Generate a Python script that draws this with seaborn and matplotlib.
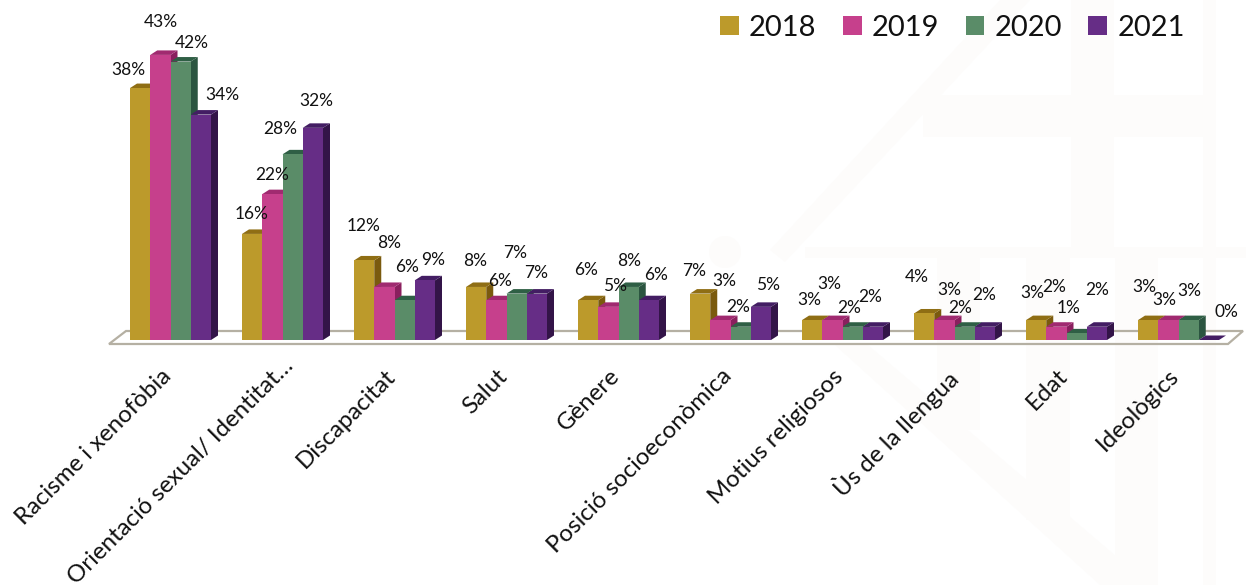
import matplotlib
matplotlib.use('Agg')
import matplotlib.pyplot as plt
from matplotlib.patches import Polygon, Rectangle, Circle
from matplotlib.transforms import ScaledTranslation
import pandas as pd
import seaborn as sns

categories = ['Racisme i xenofòbia', 'Orientació sexual/ Identitat…', 'Discapacitat', 'Salut', 'Gènere',
              'Posició socioeconòmica', 'Motius religiosos', 'Ùs de la llengua', 'Edat', 'Ideològics']
years = ['2018', '2019', '2020', '2021']
v2018 = [38, 16, 12, 8, 6, 7, 3, 4, 3, 3]
v2019 = [43, 22, 8, 6, 5, 3, 3, 3, 2, 3]
v2020 = [42, 28, 6, 7, 8, 2, 2, 2, 1, 3]
v2021 = [34, 32, 9, 7, 6, 5, 2, 2, 2, 0]

colors = ['#BC9A2B', '#C6408C', '#5A8C68', '#662D86']
top_colors = ['#8F6E14', '#A02A70', '#2F5F45', '#431D63']
side_colors = ['#7A5A0E', '#8A1F5E', '#2B5540', '#331448']

# hand placed label offsets in pixels, from the top of each bar (the labels are scattered in the original)
off2018 = [(-12, 18), (-1, 20), (-1, 34), (-1, 26), (-2, 30), (-6, 23), (-3, 20), (-7, 36), (-4, 27), (-4, 33)]
off2019 = [(0, 33), (0, 19), (5, 44), (4, 19), (7, 21), (4, 39), (-3, 36), (5, 30), (-2, 40), (-4, 20)]
off2020 = [(11, 19), (-12, 25), (2, 33), (-2, 41), (1, 26), (-2, 20), (-3, 19), (-4, 19), (-8, 25), (1, 29)]
off2021 = [(22, 20), (3, 27), (8, 20), (-1, 21), (7, 25), (7, 22), (-3, 30), (-1, 32), (0, 37), (18, 28)]

W, H = 1246, 585
PX_GROUP = 112.0   # px between groups
PX_PCT = 6.63      # px per 1%
X0 = 170.5         # px of first group centre
Y0 = 340.0         # px of baseline
AX_BOTTOM = 346


def to_x(px):
    return (px - X0) / PX_GROUP


def to_y(py):
    return (Y0 - py) / PX_PCT


sns.set_style('white')
plt.rcParams['font.family'] = ['Lato', 'DejaVu Sans']

df = pd.DataFrame({
    'cat': categories * 4,
    'year': [y for y in years for _ in categories],
    'pct': v2018 + v2019 + v2020 + v2021,
})

fig = plt.figure(figsize=(W / 100, H / 100), dpi=100)
ax = fig.add_axes([0, 1 - AX_BOTTOM / H, 1, AX_BOTTOM / H])
ax.patch.set_alpha(0)

sns.barplot(data=df, x='cat', y='pct', hue='year', hue_order=years, palette=colors,
            saturation=1, width=81 / 112, gap=0, ax=ax, zorder=3, linewidth=0)

ax.set_xlim(to_x(0), to_x(W))
ax.set_ylim(to_y(AX_BOTTOM), to_y(0))

# floor
floor = Polygon([(to_x(109), to_y(344)), (to_x(1228), to_y(344)), (to_x(1243), to_y(331)), (to_x(126), to_y(331))],
                closed=True, facecolor='none', edgecolor='#B5B0A3', linewidth=1.6, zorder=1, clip_on=False)
ax.add_patch(floor)

# 3d look, built from the seaborn bars
dx = 7 / PX_GROUP
dy = 4.5 / PX_PCT
offsets = [off2018, off2019, off2020, off2021]
for j, cont in enumerate(ax.containers):
    for i, bar in enumerate(cont):
        x0 = bar.get_x()
        x1 = x0 + bar.get_width()
        h = bar.get_height()
        top = Polygon([(x0, h), (x0 + dx, h + dy), (x1 + dx, h + dy), (x1, h)], closed=True,
                      facecolor=top_colors[j], edgecolor='none', zorder=2 + j * 0.01)
        side = Polygon([(x1, 0), (x1 + dx, dy), (x1 + dx, h + dy), (x1, h)], closed=True,
                       facecolor=side_colors[j], edgecolor='none', zorder=2 + j * 0.01)
        ax.add_patch(side)
        ax.add_patch(top)
        ax.annotate(f'{int(h)}%', xy=((x0 + x1) / 2, h), xytext=offsets[j][i], textcoords='offset pixels',
                    ha='center', va='center', fontsize=12.5, color='#111111', zorder=5)

# faint watermark behind the chart
mark = '#FDFCFB'
for rx, ry, rw, rh in [(1071, 0, 43, 258), (1203, 0, 13, 585), (923, 95, 280, 42), (805, 247, 441, 11),
                       (937, 258, 43, 172), (1026, 258, 44, 262), (1115, 258, 43, 327)]:
    fig.add_artist(Rectangle((rx / W, 1 - (ry + rh) / H), rw / W, rh / H, transform=fig.transFigure,
                             facecolor=mark, edgecolor='none', zorder=-5))
for pts in [[(770, 250), (1000, 0), (1030, 0), (785, 262)], [(835, 345), (868, 345), (1150, 585), (1100, 585)]]:
    fig.add_artist(Polygon([(px / W, 1 - py / H) for px, py in pts], transform=fig.transFigure,
                           facecolor=mark, edgecolor='none', zorder=-5))
fig.add_artist(Circle((725, H - 252), 16, transform=None, facecolor=mark, edgecolor='none', zorder=-5))

ax.set_xlabel('')
ax.set_ylabel('')
ax.set_yticks([])
ax.tick_params(axis='x', length=0, pad=14)
ax.set_xticks(range(len(categories)))
ax.set_xticklabels(categories, rotation=45, ha='right', rotation_mode='anchor', fontsize=17.3, color='#111111')
for i, lab in enumerate(ax.get_xticklabels()):
    # the long label sits a little further up and right in the original
    shift = (0, 10) if i == 1 else (-10, 0)
    lab.set_transform(lab.get_transform() + ScaledTranslation(shift[0] / 100, shift[1] / 100, fig.dpi_scale_trans))
sns.despine(ax=ax, left=True, bottom=True)

ax.legend(loc='upper right', bbox_to_anchor=(1188 / W, 1 - 12 / AX_BOTTOM), ncol=4, frameon=False, fontsize=21,
          handlelength=0.65, handleheight=0.65, handletextpad=0.35, columnspacing=0.9,
          borderaxespad=0, borderpad=0.1, labelcolor='#111111')

fig.savefig('out.png', dpi=100)
